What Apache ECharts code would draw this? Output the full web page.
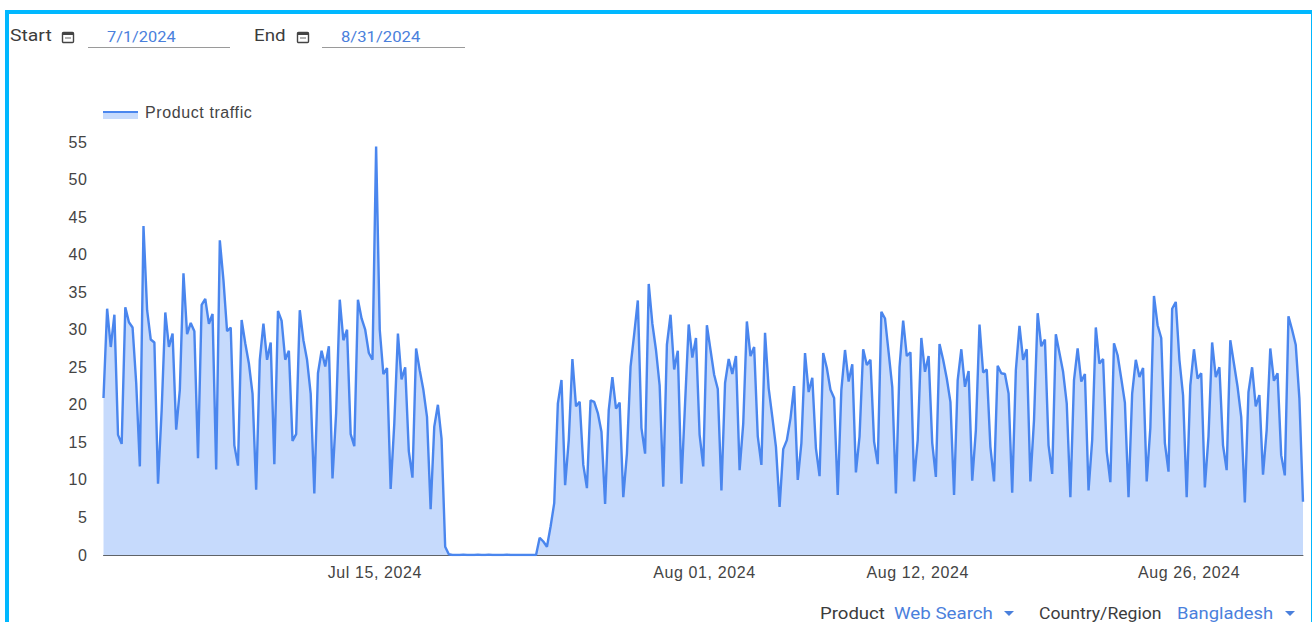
<!DOCTYPE html>
<html><head><meta charset="utf-8">
<script src="https://cdn.jsdelivr.net/npm/echarts@6/dist/echarts.min.js"></script>
<style>
html,body{margin:0;padding:0;background:#fff;width:1312px;height:622px;overflow:hidden}
#frame{position:absolute;left:5px;top:9.5px;width:1307px;height:640px;border-style:solid;border-color:#00b8ff;border-width:4px 1.5px 0 4px;box-sizing:border-box;pointer-events:none}
#chart{position:absolute;left:0;top:0;width:1312px;height:622px}
#chart text{letter-spacing:.6px}
.t{position:absolute;font-family:Roboto,sans-serif;font-size:16px;line-height:18px;white-space:nowrap;transform-origin:left center}
.k{color:#3c3c3c;font-weight:400}
.v{color:#4a80dc}
.u{position:absolute;height:1px;background:#9a9a9a}
.tri{position:absolute;width:0;height:0;border-left:5.5px solid transparent;border-right:5.5px solid transparent;border-top:5px solid #4a80dc}
.cal{position:absolute;width:14px;height:14px}
</style></head><body>
<div id="chart"></div>
<div id="frame"></div>
<div class="t k" style="left:10px;top:27px;transform:scaleX(1.21)">Start</div>
<svg class="cal" style="left:61px;top:30px" viewBox="0 0 14 14"><rect x="1.5" y="2.5" width="11" height="10" rx="1" fill="none" stroke="#444" stroke-width="1.4"/><rect x="1.5" y="2.5" width="11" height="2.5" fill="#444"/><rect x="4" y="7.5" width="6" height="1" fill="#666"/></svg>
<div class="t v" style="left:107px;top:28px;font-size:15px;transform:scaleX(1.09)">7/1/2024</div>
<div class="u" style="left:88px;top:47px;width:142px"></div>
<div class="t k" style="left:254px;top:27px;transform:scaleX(1.17)">End</div>
<svg class="cal" style="left:296px;top:30px" viewBox="0 0 14 14"><rect x="1.5" y="2.5" width="11" height="10" rx="1" fill="none" stroke="#444" stroke-width="1.4"/><rect x="1.5" y="2.5" width="11" height="2.5" fill="#444"/><rect x="4" y="7.5" width="6" height="1" fill="#666"/></svg>
<div class="t v" style="left:341px;top:28px;font-size:15px;transform:scaleX(1.11)">8/31/2024</div>
<div class="u" style="left:322px;top:47px;width:143px"></div>
<div class="t k" style="left:820px;top:605px;transform:scaleX(1.16)">Product</div>
<div class="t v" style="left:894px;top:605px;font-weight:400;transform:scaleX(1.17)">Web Search</div>
<div class="tri" style="left:1004px;top:611px"></div>
<div class="t k" style="left:1039px;top:605px;transform:scaleX(1.1)">Country/Region</div>
<div class="t v" style="left:1177px;top:605px;font-weight:400;transform:scaleX(1.15)">Bangladesh</div>
<div class="tri" style="left:1285px;top:611px"></div>
<script>
const seriesName = "Product traffic";
const startDate = Date.UTC(2024, 6, 1);
const stepHours = 4.5;
const tickLabels = ["Jul 15, 2024", "Aug 01, 2024", "Aug 12, 2024", "Aug 26, 2024"];
const tickDates = [Date.UTC(2024,6,15), Date.UTC(2024,7,1), Date.UTC(2024,7,12), Date.UTC(2024,7,26)];
const traffic = [
20.9,32.8,27.7,32,16,14.8,33,31,30.3,22.9,11.8,43.8,32.6,28.7,28.3,9.5,19.3,32.3,27.7,29.5,
16.7,22,37.5,29.4,30.9,29.8,12.9,33.3,34.1,30.8,32.1,11.4,41.9,36.6,29.8,30.3,14.6,11.9,31.3,28.2,
25.5,21.5,8.7,26,30.8,26,28.3,12.1,32.5,31.2,26,27.2,15.2,16.1,32.6,28.6,26,21.5,8.2,24.2,
27.2,25.1,27.8,10.2,18.9,34,28.6,30,16.1,14.5,34,31.5,30,26.9,26,54.4,30,24.1,24.9,8.8,
17.5,29.5,23.4,25,13.8,10.3,27.5,24.6,22,18.4,6.1,17.1,20,15.5,1.1,0.1,0,0,0,0.05,
0,0,0,0.05,0,0,0.05,0,0,0,0,0.05,0,0,0,0,0,0,0,0,
2.3,1.8,1.1,3.8,6.9,20.2,23.3,9.3,15.3,26.1,19.8,20.4,12,8.9,20.6,20.4,18.9,16.4,6.8,19.3,
23.7,19.5,20.3,7.7,13.5,25.1,29.4,33.9,16.9,13.5,36.1,30.8,27.3,22.6,9.1,28,32,24.7,27.2,9.5,
20.2,30.7,26.3,28.9,16,11.8,30.6,27.3,24,22.1,8.6,22.9,26.1,24.1,26.5,11.3,17.5,31.1,26.5,27.7,
15.8,12,29.6,22.2,18.4,14.4,6.4,14.1,15.3,18.2,22.5,10,14.9,26.9,21.7,23.6,14.2,10.5,26.9,24.9,
22,20.9,8,22,27.3,23.1,25.4,11,15.8,27.4,25.3,26,15.1,12.1,32.4,31.5,27,22.4,8.2,25,
31.2,26.5,27,9.8,15.3,28.9,24.4,26.5,14.9,10.4,28.1,26,23.5,20.4,8,23.3,27.4,22.4,24.5,9.9,
16.6,30.7,24.3,24.7,14.4,9.8,25.2,24.2,24.1,21.5,8.3,24.6,30.5,26,27.4,9.8,18,32.2,27.8,28.7,
14.6,10.8,29.4,26.9,24.4,20.2,7.7,23.3,27.5,23.1,24.1,8.6,15.3,30.3,25.5,26.1,13.8,9.7,28.2,26.6,
23.5,20.3,7.7,21.5,26,23.7,24.9,9.8,16.9,34.5,30.6,28.9,14.9,11.1,32.8,33.7,26,21.3,7.7,22.6,
27.4,23.5,24.2,9,15.8,28.3,23.7,25,14.6,11.3,28.6,25.5,22.4,18.4,7,21.7,25,19.8,21.3,10.7,
16.6,27.5,23.2,24.2,13.3,10.6,31.8,30,28,20.9,7.1
];
const points = traffic.map((v, i) => [startDate + i * stepHours * 3600000, v]);

const chart = echarts.init(document.getElementById('chart'), null, {renderer:'svg'});
chart.setOption({
  animation:false,
  backgroundColor:'#fff',
  textStyle:{fontFamily:'"Liberation Sans",Arial,sans-serif'},
  legend:{
    show:true, left:103, top:104, padding:0, itemWidth:35, itemHeight:2,
    icon:'rect',
    data:[{name:seriesName}],
    textStyle:{color:'#444',fontSize:16,padding:[0,0,0,2]}
  },
  graphic:[{type:'rect',left:103,top:113,z:-1,shape:{width:35,height:6},style:{fill:'#c6dafc'}}],
  grid:{left:103.5,right:9,top:142,bottom:67},
  xAxis:{
    type:'value',
    scale:true,
    min:startDate,
    max:points[points.length-1][0],
    splitLine:{show:false},
    axisTick:{show:false},
    axisLine:{show:true,lineStyle:{color:'#5f6368',width:1}},
    axisLabel:{
      customValues:tickDates,
      hideOverlap:false,
      color:'#444',fontSize:16,margin:9,
      formatter:(val)=>tickLabels[tickDates.indexOf(val)] || ''
    }
  },
  yAxis:{
    type:'value',min:0,max:55,interval:5,
    axisLine:{show:false},axisTick:{show:false},splitLine:{show:false},
    axisLabel:{color:'#444',fontSize:16,margin:16}
  },
  series:[{
    name:seriesName,type:'line',data:points,showSymbol:false,symbol:'none',smooth:false,
    lineStyle:{color:'#4a86ee',width:2.4},
    itemStyle:{color:'#4a86ee'},
    areaStyle:{color:'#c6dafc',opacity:1}
  }]
});
</script>
</body></html>
